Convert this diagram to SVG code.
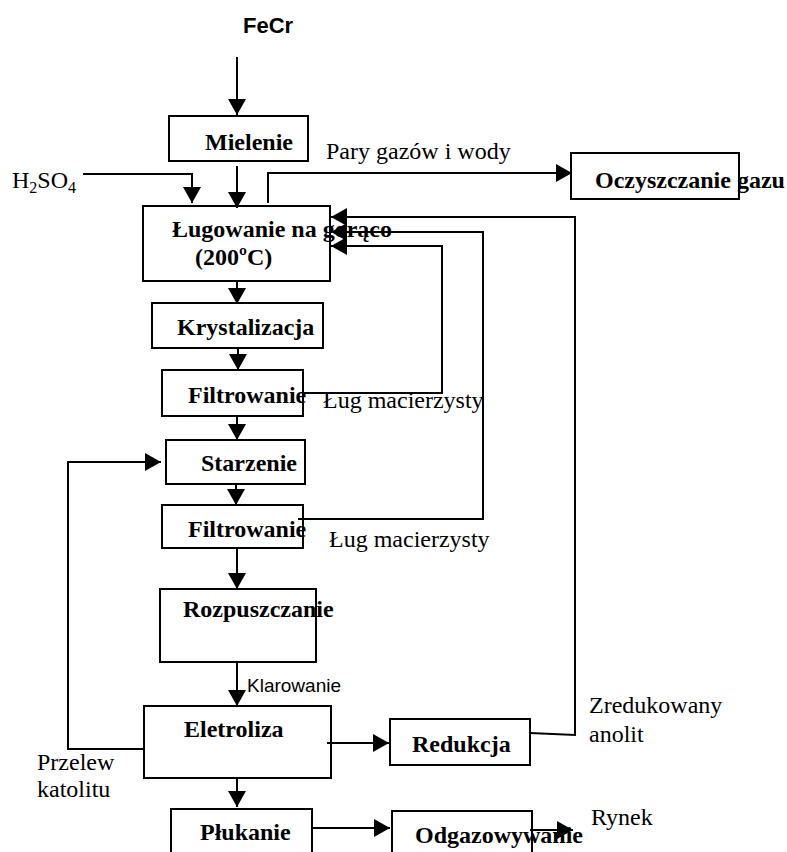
<svg xmlns="http://www.w3.org/2000/svg" width="787" height="852" viewBox="0 0 787 852">
  <style>
    .box { fill: none; stroke: #000; stroke-width: 2; }
    .title { font-family: "Liberation Serif", "Times New Roman", serif; font-weight: bold; font-size: 24px; fill: #000; }
    .label { font-family: "Liberation Serif", "Times New Roman", serif; font-size: 24px; fill: #000; }
    .sans { font-family: "Liberation Sans", Arial, sans-serif; fill: #000; }
    .conn { fill: none; stroke: #000; stroke-width: 2; }
    .arrow { marker-end: url(#head); }
  </style>
  <defs>
    <marker id="head" viewBox="0 0 16 18" refX="16" refY="9" markerWidth="16" markerHeight="18" markerUnits="userSpaceOnUse" orient="auto">
      <path d="M0,0 L16,9 L0,18 Z" fill="#000"/>
    </marker>
  </defs>

  <rect width="787" height="852" fill="#fff"/>

  <!-- flow connectors -->
  <g id="connectors">
    <path class="conn arrow" d="M237,57 V115"/>
    <path class="conn arrow" d="M237,166 V208"/>
    <path class="conn arrow" d="M83,174 H192 V203"/>
    <path class="conn arrow" d="M268,203 V173 H572"/>
    <path class="conn arrow" d="M237,281 V304"/>
    <path class="conn arrow" d="M238,348 V370"/>
    <path class="conn arrow" d="M237,416 V440"/>
    <path class="conn arrow" d="M236,484 V505"/>
    <path class="conn arrow" d="M237,548 V589"/>
    <path class="conn arrow" d="M237,662 V706"/>
    <path class="conn arrow" d="M237,778 V807"/>
    <path class="conn arrow" d="M327,743 H389"/>
    <path class="conn arrow" d="M312,828 H390"/>
    <path class="conn arrow" d="M530,830 H573"/>
    <!-- mother liquor returns -->
    <path class="conn arrow" d="M303,393 H442 V246 H331"/>
    <path class="conn arrow" d="M298,519 H483 V232 H331"/>
    <!-- reduced anolyte return -->
    <path class="conn arrow" d="M530,733 L575,735 V217 H331"/>
    <!-- catholyte overflow -->
    <path class="conn arrow" d="M145,749 H68 V462 H161"/>
  </g>

  <g id="feed">
    <text class="sans" x="243" y="33" font-size="22" font-weight="bold">FeCr</text>
  </g>

  <g id="acid">
    <text class="label" x="12" y="188">H<tspan font-size="16" dy="5">2</tspan><tspan dy="-5">SO</tspan><tspan font-size="16" dy="5">4</tspan></text>
  </g>

  <g id="mielenie">
    <rect class="box" x="169" y="116" width="139" height="45"/>
    <text class="title" x="205" y="150">Mielenie</text>
  </g>

  <g id="lugowanie">
    <rect class="box" x="143" y="206" width="187" height="75"/>
    <text class="title" x="172" y="237">Ługowanie na gorąco</text>
    <text class="title" x="195" y="265">(200ºC)</text>
  </g>

  <g id="oczyszczanie">
    <rect class="box" x="571" y="153" width="168" height="46"/>
    <text class="title" x="595" y="188">Oczyszczanie gazu</text>
  </g>

  <g id="krystalizacja">
    <rect class="box" x="152" y="303" width="171" height="45"/>
    <text class="title" x="177" y="335">Krystalizacja</text>
  </g>

  <g id="filtrowanie1">
    <rect class="box" x="162" y="370" width="141" height="46"/>
    <text class="title" x="188" y="403">Filtrowanie</text>
  </g>

  <g id="starzenie">
    <rect class="box" x="166" y="440" width="139" height="44"/>
    <text class="title" x="201" y="471">Starzenie</text>
  </g>

  <g id="filtrowanie2">
    <rect class="box" x="162" y="505" width="141" height="43"/>
    <text class="title" x="188" y="537">Filtrowanie</text>
  </g>

  <g id="rozpuszczanie">
    <rect class="box" x="160" y="589" width="156" height="73"/>
    <text class="title" x="183" y="617">Rozpuszczanie</text>
  </g>

  <g id="eletroliza">
    <rect class="box" x="144" y="706" width="187" height="72"/>
    <text class="title" x="184" y="737">Eletroliza</text>
  </g>

  <g id="redukcja">
    <rect class="box" x="390" y="719" width="140" height="46"/>
    <text class="title" x="412" y="752">Redukcja</text>
  </g>

  <g id="plukanie">
    <rect class="box" x="171" y="809" width="141" height="60"/>
    <text class="title" x="200" y="840">Płukanie</text>
  </g>

  <g id="odgazowywanie">
    <rect class="box" x="392" y="811" width="140" height="60"/>
    <text class="title" x="415" y="843">Odgazowywanie</text>
  </g>

  <!-- stream labels -->
  <g id="labels">
    <text class="label" x="326" y="159">Pary gazów i wody</text>
    <text class="label" x="323" y="408">Ług macierzysty</text>
    <text class="label" x="329" y="547">Ług macierzysty</text>
    <text class="sans" x="247" y="692" font-size="19">Klarowanie</text>
    <text class="label" x="589" y="713">Zredukowany</text>
    <text class="label" x="589" y="742">anolit</text>
    <text class="label" x="37" y="770">Przelew</text>
    <text class="label" x="37" y="797">katolitu</text>
    <text class="label" x="591" y="825">Rynek</text>
  </g>
</svg>
